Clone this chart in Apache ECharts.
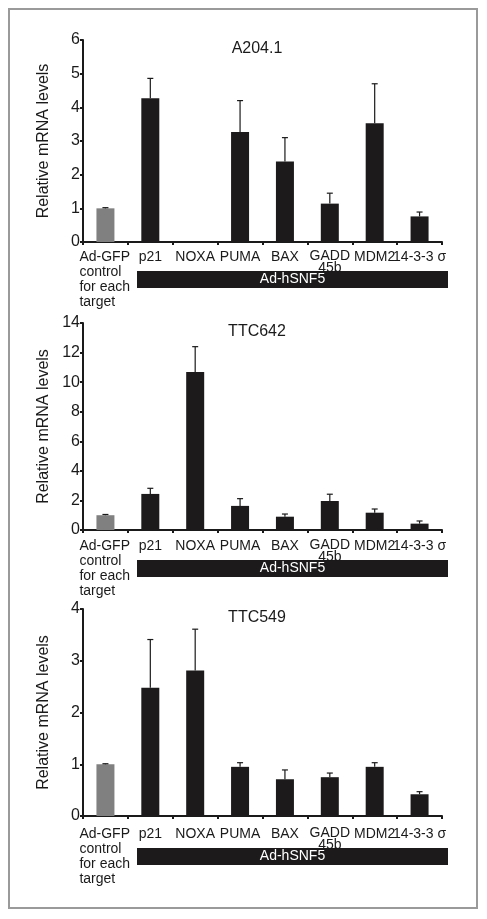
<!DOCTYPE html>
<html>
<head>
<meta charset="utf-8">
<script src="https://cdn.jsdelivr.net/npm/echarts@6/dist/echarts.min.js"></script>
<style>html,body{margin:0;padding:0;background:#fff;}#c{width:487px;height:919px;}</style>
</head>
<body>
<div id="c"></div>
<script>
const categories = ['Ad-GFP', 'p21', 'NOXA', 'PUMA', 'BAX', 'GADD\n45b', 'MDM2', '14-3-3 σ'];
const panelTitles = ['A204.1', 'TTC642', 'TTC549'];
const a204Values = [1.0, 4.27, 0, 3.27, 2.39, 1.14, 3.53, 0.76];
const a204Errors = [0.02, 0.59, 0, 0.93, 0.71, 0.31, 1.17, 0.13];
const ttc642Values = [1.0, 2.44, 10.68, 1.63, 0.90, 1.96, 1.17, 0.43];
const ttc642Errors = [0.05, 0.38, 1.72, 0.49, 0.18, 0.46, 0.25, 0.18];
const ttc549Values = [1.0, 2.48, 2.81, 0.95, 0.71, 0.75, 0.95, 0.42];
const ttc549Errors = [0.01, 0.93, 0.80, 0.08, 0.18, 0.08, 0.08, 0.05];
const yMax = [6, 14, 4];
const yInterval = [1, 2, 1];
const groupLabel = 'Ad-hSNF5';

const FONT = '"Liberation Sans", Arial, Helvetica, sans-serif';
const values = [a204Values, ttc642Values, ttc549Values];
const errors = [a204Errors, ttc642Errors, ttc549Errors];
const grids = [
  {left: 83, right: 45, top: 40, height: 202},
  {left: 83, right: 45, top: 323, height: 207},
  {left: 83, right: 45, top: 609, height: 207}
];
const labelMargins = [8, 9, 11];
const bandTops = [271, 560, 848];

function labelFmt(v) {
  if (v === 'Ad-GFP') return '{g|Ad-GFP}\n{g|control}\n{g|for each}\n{g|target}';
  if (v.indexOf('\n') >= 0) return v.split('\n').map(s => '{d|' + s + '}').join('\n');
  return '{n|' + v + '}';
}

const option = {
  animation: false,
  backgroundColor: '#fff',
  title: panelTitles.map((t, i) => ({
    text: t, left: 252, top: grids[i].top - 4, textAlign: 'center',
    textStyle: {fontFamily: FONT, fontSize: 16, fontWeight: 'normal', color: '#1a1a1a'}
  })),
  grid: grids,
  xAxis: grids.map((g, i) => ({
    type: 'category', gridIndex: i, data: categories,
    axisLine: {lineStyle: {color: '#1a1a1a', width: 2}},
    axisTick: {show: true, interval: 0, length: 3, lineStyle: {color: '#1a1a1a', width: 2}},
    axisLabel: {
      interval: 0, margin: labelMargins[i], color: '#1a1a1a', fontFamily: FONT, fontSize: 14,
      formatter: labelFmt,
      rich: {
        g: {fontFamily: FONT, fontSize: 14, lineHeight: 15, width: 52, align: 'left', color: '#1a1a1a'},
        d: {fontFamily: FONT, fontSize: 14, lineHeight: 12, color: '#1a1a1a'},
        n: {fontFamily: FONT, fontSize: 14, lineHeight: 15, color: '#1a1a1a'}
      }
    }
  })),
  yAxis: grids.map((g, i) => ({
    type: 'value', gridIndex: i, min: 0, max: yMax[i], interval: yInterval[i],
    name: 'Relative mRNA levels', nameLocation: 'middle', nameRotate: 90, nameGap: 31,
    nameTextStyle: {fontFamily: FONT, fontSize: 16, color: '#1a1a1a'},
    axisLine: {show: true, lineStyle: {color: '#1a1a1a', width: 2}},
    axisTick: {show: true, length: 3, lineStyle: {color: '#1a1a1a', width: 2}},
    axisLabel: {margin: 3, color: '#1a1a1a', fontFamily: FONT, fontSize: 16},
    splitLine: {show: false}
  })),
  series: [].concat(...grids.map((g, i) => [
    {
      type: 'bar', xAxisIndex: i, yAxisIndex: i, barWidth: 18,
      data: values[i].map((v, k) => ({value: v, itemStyle: {color: k === 0 ? '#808080' : '#1c1a1b'}}))
    },
    {
      type: 'custom', xAxisIndex: i, yAxisIndex: i, z: 3,
      data: values[i].map((v, k) => [k, v, errors[i][k]]),
      renderItem: function (params, api) {
        const e = api.value(2);
        if (!(e > 0)) return null;
        const x = api.value(0), v = api.value(1);
        const base = api.coord([x, v]);
        const top = api.coord([x, v + e]);
        const st = {stroke: '#1a1a1a', lineWidth: 1.2};
        return {type: 'group', children: [
          {type: 'line', shape: {x1: base[0], y1: base[1], x2: top[0], y2: top[1]}, style: st},
          {type: 'line', shape: {x1: top[0] - 3, y1: top[1], x2: top[0] + 3, y2: top[1]}, style: st}
        ]};
      }
    }
  ])),
  graphic: [
    {type: 'rect', shape: {x: 9, y: 9, width: 468, height: 899}, style: {fill: 'none', stroke: '#9a9a9a', lineWidth: 2}, z: 0}
  ].concat(bandTops.map(t => ({
    type: 'rect', shape: {x: 137, y: t, width: 311, height: 17},
    style: {fill: '#1c1a1b'},
    textContent: {style: {text: groupLabel, fill: '#fff', fontFamily: FONT, fontSize: 14}},
    textConfig: {position: 'inside'}
  })))
};

const chart = echarts.init(document.getElementById('c'), null, {renderer: 'canvas'});
chart.setOption(option);
</script>
</body>
</html>
